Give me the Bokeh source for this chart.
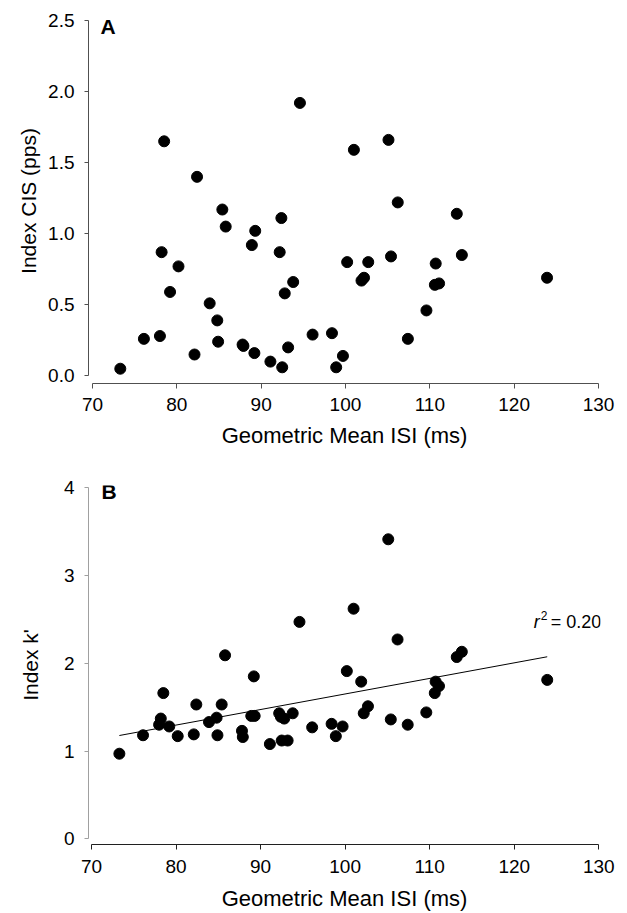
import numpy as np
from bokeh.plotting import figure
from bokeh.layouts import column
from bokeh.models import Range1d, FixedTicker, PrintfTickFormatter, Label, ColumnDataSource
from bokeh.embed import file_html
from bokeh.resources import INLINE

# ---- data ----
isi_ms = [73.3, 76.1, 78.0, 78.2, 78.5, 79.2, 80.2, 82.1, 82.4, 83.9,
          84.8, 84.9, 85.4, 85.8, 87.8, 87.9, 88.9, 89.2, 89.3, 91.1,
          92.2, 92.4, 92.5, 92.8, 93.2, 93.8, 94.6, 96.1, 98.4, 98.9,
          99.7, 100.2, 101.0, 101.9, 102.2, 102.7, 105.1, 105.4, 106.2, 107.4,
          109.6, 110.6, 110.7, 111.1, 113.2, 113.8, 123.9]
index_cis = [0.05, 0.26, 0.28, 0.87, 1.65, 0.59, 0.77, 0.15, 1.40, 0.51,
             0.39, 0.24, 1.17, 1.05, 0.22, 0.21, 0.92, 0.16, 1.02, 0.10,
             0.87, 1.11, 0.06, 0.58, 0.20, 0.66, 1.92, 0.29, 0.30, 0.06,
             0.14, 0.80, 1.59, 0.67, 0.69, 0.80, 1.66, 0.84, 1.22, 0.26,
             0.46, 0.64, 0.79, 0.65, 1.14, 0.85, 0.69]
index_k = [0.97, 1.18, 1.30, 1.37, 1.66, 1.28, 1.17, 1.19, 1.53, 1.33,
           1.38, 1.18, 1.53, 2.09, 1.23, 1.16, 1.40, 1.85, 1.40, 1.08,
           1.43, 1.39, 1.12, 1.37, 1.12, 1.43, 2.47, 1.27, 1.31, 1.17,
           1.28, 1.91, 2.62, 1.79, 1.43, 1.51, 3.41, 1.36, 2.27, 1.30,
           1.44, 1.66, 1.79, 1.74, 2.07, 2.13, 1.81]
x_ticks = [70, 80, 90, 100, 110, 120, 130]
cis_ticks = [0.0, 0.5, 1.0, 1.5, 2.0, 2.5]
k_ticks = [0, 1, 2, 3, 4]
x_label = "Geometric Mean ISI (ms)"
cis_label = "Index CIS (pps)"
k_label = "Index k'"
r2_text = "= 0.20"

FONT = "Liberation Sans"


def style(p, xcol, ycol, x_standoff):
    p.grid.visible = False
    p.outline_line_color = None
    p.background_fill_color = "white"
    p.border_fill_color = "white"
    for ax in (p.xaxis[0], p.yaxis[0]):
        ax.minor_tick_line_color = None
        ax.major_tick_in = 0
        ax.major_tick_out = 5
        ax.major_label_text_font = FONT
        ax.major_label_text_color = "black"
        ax.axis_label_text_font = FONT
        ax.axis_label_text_font_style = "normal"
        ax.axis_label_text_color = "black"
    p.xaxis[0].axis_label_text_font_size = "22px"
    p.yaxis[0].axis_label_text_font_size = "21px"
    p.xaxis[0].axis_line_color = xcol
    p.xaxis[0].major_tick_line_color = xcol
    p.yaxis[0].axis_line_color = ycol
    p.yaxis[0].major_tick_line_color = ycol
    p.xaxis[0].major_label_text_font_size = "19px"
    p.yaxis[0].major_label_text_font_size = "19px"
    p.xaxis[0].major_label_standoff = x_standoff
    p.yaxis[0].major_label_standoff = 10
    p.yaxis[0].major_tick_out = 4


# ---- panel A ----
pA = figure(width=619, height=458, output_backend="svg", toolbar_location=None,
            x_range=Range1d(69.53, 130.24), y_range=Range1d(-0.054, 2.514),
            min_border_left=88, min_border_right=17, min_border_top=18, min_border_bottom=75)
style(pA, "#505050", "#505050", 9)
pA.xaxis.ticker = FixedTicker(ticks=x_ticks)
pA.yaxis.ticker = FixedTicker(ticks=cis_ticks)
pA.yaxis.formatter = PrintfTickFormatter(format="%.1f")
pA.xaxis.bounds = (70, 130)
pA.yaxis.bounds = (0, 2.5)
pA.xaxis.axis_label = x_label
pA.yaxis.axis_label = cis_label
pA.xaxis.axis_label_standoff = 9
pA.yaxis.axis_label_standoff = 5
srcA = ColumnDataSource(dict(x=isi_ms, y=index_cis))
pA.scatter("x", "y", source=srcA, size=11, fill_color="black", line_color="black")
pA.add_layout(Label(x=70.94, y=2.457, text="A", text_font=FONT, text_font_style="bold",
                    text_font_size="21px", text_baseline="alphabetic", text_color="black"))

# ---- panel B ----
pB = figure(width=619, height=455, output_backend="svg", toolbar_location=None,
            x_range=Range1d(69.65, 130.2), y_range=Range1d(-0.063, 4.022),
            min_border_left=87, min_border_right=19, min_border_top=27, min_border_bottom=64)
style(pB, "#202020", "#a0a0a0", 10)
pB.xaxis.ticker = FixedTicker(ticks=x_ticks)
pB.yaxis.ticker = FixedTicker(ticks=k_ticks)
pB.xaxis.bounds = (70, 130)
pB.yaxis.bounds = (0, 4)
pB.xaxis.axis_label = x_label
pB.yaxis.axis_label = k_label
pB.xaxis.axis_label_standoff = 10
pB.yaxis.axis_label_standoff = 19
srcB = ColumnDataSource(dict(x=isi_ms, y=index_k))
pB.scatter("x", "y", source=srcB, size=11, fill_color="black", line_color="black")

slope, intercept = np.polyfit(np.array(isi_ms), np.array(index_k), 1)
fit_x = [min(isi_ms), max(isi_ms)]
fit_y = [slope * v + intercept for v in fit_x]
pB.line(fit_x, fit_y, line_color="black", line_width=1)

pB.add_layout(Label(x=71.18, y=3.951, text="B", text_font=FONT, text_font_style="bold",
                    text_font_size="21px", text_baseline="alphabetic", text_color="black"))
pB.add_layout(Label(x=122.3, y=2.468, text="r", text_font=FONT, text_font_style="italic",
                    text_font_size="18px", text_baseline="alphabetic", text_color="black"))
pB.add_layout(Label(x=122.3, y=2.468, x_offset=7, y_offset=7, text="2", text_font=FONT,
                    text_font_size="12px", text_baseline="alphabetic", text_color="black"))
pB.add_layout(Label(x=122.3, y=2.468, x_offset=17, text=r2_text, text_font=FONT,
                    text_font_size="18px", text_baseline="alphabetic", text_color="black"))

layout = column(pA, pB, spacing=0)
open("out.html", "w").write(file_html(layout, INLINE))
